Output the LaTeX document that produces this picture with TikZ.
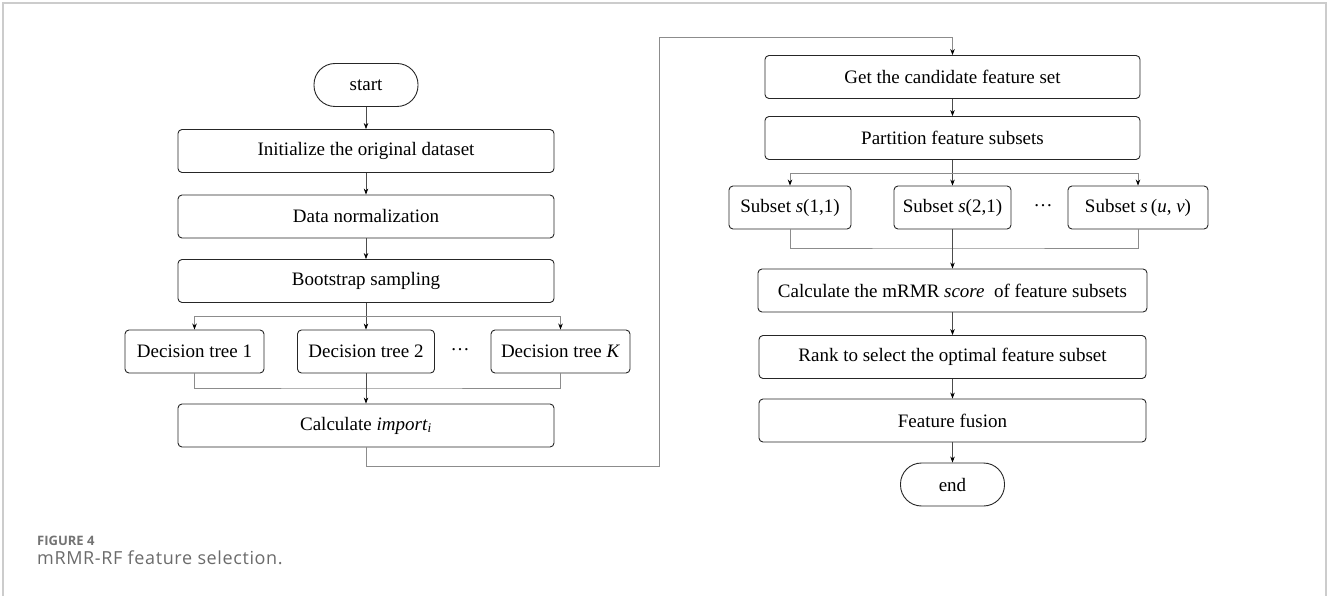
\documentclass[tikz,border=0pt]{standalone}
\usepackage{fontspec}
\setmainfont{Liberation Serif}
\newfontfamily\capfont[LetterSpace=3.5]{Open Sans}
\newfontfamily\capheadfont{Open Sans}
\usetikzlibrary{arrows.meta}
\begin{document}
\begin{tikzpicture}[x=1pt,y=-1pt,
  box/.style={draw=black!85, line width=0.9pt, rounded corners=4pt, minimum height=43pt, inner sep=0pt, font=\fontsize{19}{22}\selectfont},
  term/.style={box, rounded corners=21pt, minimum width=104pt},
  arr/.style={-{Stealth[length=6pt,width=4.5pt,black]}, draw=black!70, line width=0.6pt},
  ln/.style={draw=black!45, line width=0.7pt},
  lnarr/.style={-{Stealth[length=6pt,width=4.5pt,black]}, draw=black!45, line width=0.7pt},
]
\useasboundingbox (0,0) rectangle (1328,596);
\draw[black!20, line width=1.5pt] (3,596) -- (3,3) -- (1326,3) -- (1326,596);

% left column
\node[term] (start) at (366,85) {start};
\node[box, minimum width=376pt] (init) at (366,151) {Initialize the original dataset};
\node[box, minimum width=376pt] (norm) at (366,216.5) {Data normalization};
\node[box, minimum width=376pt] (boot) at (366,281) {Bootstrap sampling};
\node[box, minimum width=139pt] (dt1) at (194.5,351.5) {Decision tree 1};
\node[box, minimum width=137pt] (dt2) at (366,351.5) {Decision tree 2};
\node[box, minimum width=139pt] (dtK) at (560.5,351.5) {Decision tree \textit{K}};
\node[font=\fontsize{19}{22}\selectfont] (dots1) at (460,350) {\dots};
\node[box, minimum width=376pt] (calc) at (366,425.5) {Calculate \textit{import}\textsubscript{\textit{i}}};

\coordinate (bs) at (366,316);
\coordinate (ms) at (366,388);
\draw[arr] (start) -- (init);
\draw[arr] (init) -- (norm);
\draw[arr] (norm) -- (boot);
\draw[arr] (boot) -- (dt2);
\draw[lnarr] (bs) -| (dt1.north);
\draw[lnarr] (bs) -| (dtK.north);
\draw[ln] (dt1.south) |- (ms) -| (dtK.south);
\draw[arr] (dt2) -- (calc);

% loop connector
\coordinate (l1) at (659,466);
\coordinate (l2) at (659,37);

% right column
\node[box, minimum width=375pt] (get) at (952.5,77) {Get the candidate feature set};
\node[box, minimum width=375pt] (part) at (952.5,138) {Partition feature subsets};
\node[box, minimum width=122pt] (s11) at (790,207.5) {Subset \textit{s}(1,1)};
\node[box, minimum width=117pt] (s21) at (952.5,207.5) {Subset \textit{s}(2,1)};
\node[box, minimum width=140pt] (suv) at (1138,207.5) {Subset \textit{s}\,(\textit{u}, \textit{v})};
\node[font=\fontsize{19}{22}\selectfont] (dots2) at (1043,206) {\dots};
\node[box, minimum width=389pt] (score) at (952.5,290.5) {Calculate the mRMR \textit{score}\ \ of feature subsets};
\node[box, minimum width=387pt] (rank) at (952.5,357) {Rank to select the optimal feature subset};
\node[box, minimum width=387pt] (fus) at (952.5,420.5) {Feature fusion};
\node[term] (end) at (952.5,484.5) {end};

\draw[lnarr] (calc.south) |- (l1) -- (l2) -| (get.north);

\coordinate (bs2) at (952.5,173);
\coordinate (ms2) at (952.5,248);
\draw[arr] (get) -- (part);
\draw[arr] (part) -- (s21);
\draw[lnarr] (bs2) -| (s11.north);
\draw[lnarr] (bs2) -| (suv.north);
\draw[ln] (s11.south) |- (ms2) -| (suv.south);
\draw[arr] (s21) -- (score);
\draw[arr] (score) -- (rank);
\draw[arr] (rank) -- (fus);
\draw[arr] (fus) -- (end);

% caption
\node[anchor=base west, inner sep=0pt, text=black!55, font=\capheadfont\bfseries\fontsize{13}{15}\selectfont] (cap1) at (37,545) {FIGURE 4};
\node[anchor=base west, inner sep=0pt, text=black!58, font=\capfont\fontsize{18}{20}\selectfont] (cap2) at (37,564) {mRMR-RF feature selection.};
\end{tikzpicture}
\end{document}
